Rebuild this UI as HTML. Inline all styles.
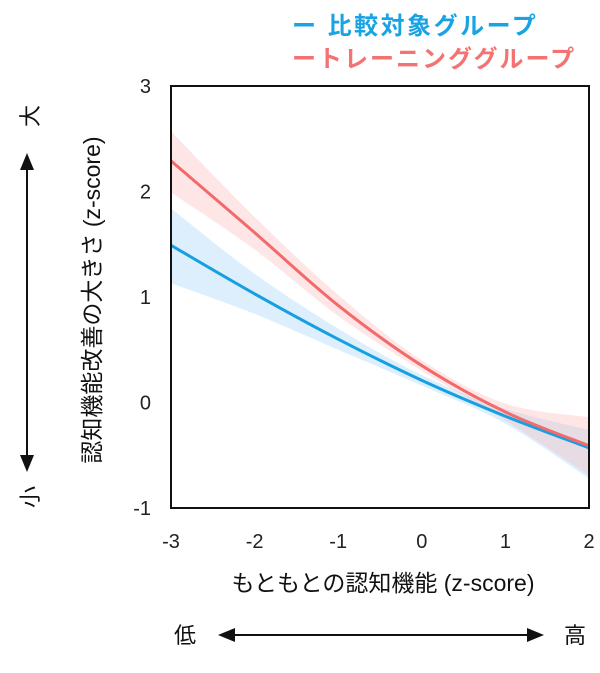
<!DOCTYPE html>
<html><head><meta charset="utf-8"><style>
body{margin:0;background:#fff;}
svg text{font-family:"Liberation Sans","Noto Sans CJK JP",sans-serif;}
</style></head><body>
<svg width="600" height="668" viewBox="0 0 600 668" xmlns="http://www.w3.org/2000/svg">
<g id="bands"></g><g id="lines"></g>
<rect x="171" y="86" width="418" height="422" fill="none" stroke="#111" stroke-width="2"/>
<g id="yticks" font-size="20" fill="#222" text-anchor="end"></g>
<g id="xticks" font-size="20" fill="#222" text-anchor="middle"></g>
<text x="383" y="591" font-size="23" text-anchor="middle" fill="#111">もともとの認知機能 (z-score)</text>
<text transform="translate(100,300) rotate(-90)" font-size="23" text-anchor="middle" fill="#111">認知機能改善の大きさ (z-score)</text>
<g>
<line x1="27" y1="168" x2="27" y2="458" stroke="#111" stroke-width="2"/>
<polygon points="27,153 20,170 34,170" fill="#111"/>
<polygon points="27,472 20,455 34,455" fill="#111"/>
<text transform="translate(38,116) rotate(-90)" font-size="22" text-anchor="middle" fill="#111">大</text>
<text transform="translate(38,497) rotate(-90)" font-size="22" text-anchor="middle" fill="#111">小</text>
</g>
<g>
<line x1="232" y1="635" x2="530" y2="635" stroke="#111" stroke-width="2"/>
<polygon points="218,635 235,628 235,642" fill="#111"/>
<polygon points="544,635 527,628 527,642" fill="#111"/>
<text x="185" y="643" font-size="22" text-anchor="middle" fill="#111">低</text>
<text x="575" y="643" font-size="22" text-anchor="middle" fill="#111">高</text>
</g>
<g font-size="24" font-weight="bold">
<text x="292" y="34" fill="#1aa3e3" letter-spacing="2.5">ー 比較対象グループ</text>
<text x="292" y="67" fill="#f47272" letter-spacing="2">ートレーニンググループ</text>
</g>
</svg>
<script>
const xVals=[-3,-2,-1,0,1,2];
const redMean=[2.29,1.61,0.92,0.35,-0.09,-0.41];
const redLow=[1.99,1.45,0.82,0.30,-0.17,-0.69];
const redHigh=[2.57,1.76,1.02,0.40,-0.01,-0.14];
const blueMean=[1.49,1.03,0.60,0.21,-0.13,-0.43];
const blueLow=[1.13,0.84,0.50,0.16,-0.20,-0.72];
const blueHigh=[1.84,1.22,0.70,0.26,-0.06,-0.26];
const yTickVals=[3,2,1,0,-1];
const xTickVals=[-3,-2,-1,0,1,2];
const NS='http://www.w3.org/2000/svg';
const X=v=>171+(v+3)*418/5;
const Y=v=>86+(3-v)*422/4;
function pts(a){return xVals.map((x,i)=>[X(x),Y(a[i])]);}
function spline(p,move){let d=move?`M${p[0][0]},${p[0][1]}`:`L${p[0][0]},${p[0][1]}`;
for(let i=0;i<p.length-1;i++){const p0=p[i-1]||p[i],p1=p[i],p2=p[i+1],p3=p[i+2]||p2;
d+=`C${p1[0]+(p2[0]-p0[0])/6},${p1[1]+(p2[1]-p0[1])/6} ${p2[0]-(p3[0]-p1[0])/6},${p2[1]-(p3[1]-p1[1])/6} ${p2[0]},${p2[1]}`;}return d;}
function band(lo,hi,color,name){const p=document.createElementNS(NS,'path');
p.setAttribute('d',spline(pts(hi),true)+spline(pts(lo).reverse(),false)+'Z');
p.setAttribute('fill',color);p.setAttribute('fill-opacity','0.3');


document.getElementById('bands').appendChild(p);}
function line(m,color,name){const p=document.createElementNS(NS,'path');
p.setAttribute('d',spline(pts(m),true));p.setAttribute('fill','none');p.setAttribute('stroke',color);p.setAttribute('stroke-width','3');


document.getElementById('lines').appendChild(p);}
band(blueLow,blueHigh,'#8ecbf5','control-ci-band');
band(redLow,redHigh,'#ffabab','training-ci-band');
line(blueMean,'#16a0e0','control-line');
line(redMean,'#f36a6a','training-line');
yTickVals.forEach(v=>{const t=document.createElementNS(NS,'text');t.setAttribute('x',151);t.setAttribute('y',Y(v)+7);t.textContent=v;


document.getElementById('yticks').appendChild(t);});
xTickVals.forEach(v=>{const t=document.createElementNS(NS,'text');t.setAttribute('x',X(v));t.setAttribute('y',548);t.textContent=v;


document.getElementById('xticks').appendChild(t);});
</script>
</body></html>
